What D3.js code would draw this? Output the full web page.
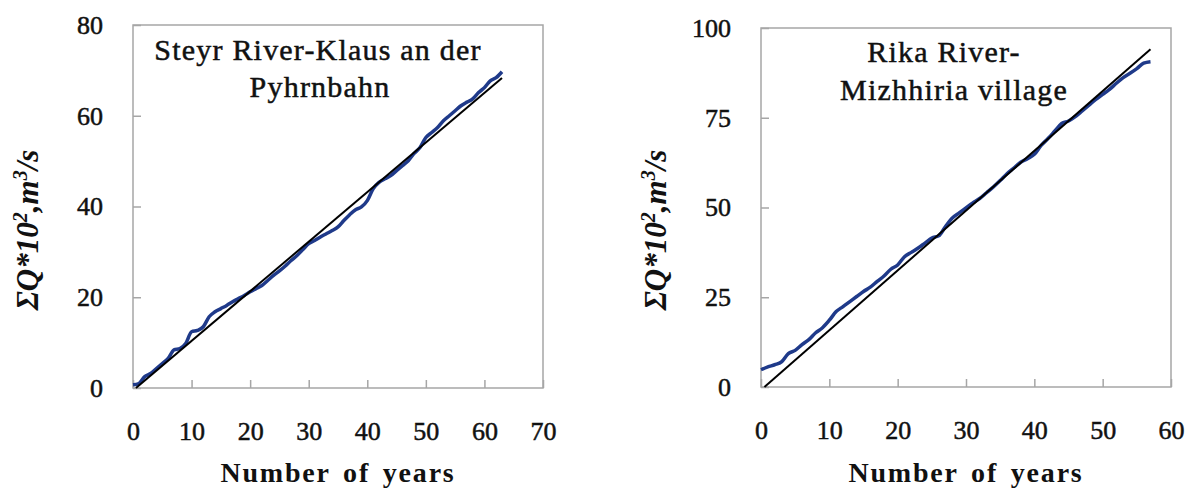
<!DOCTYPE html>
<html>
<head>
<meta charset="utf-8">
<script src="https://cdn.jsdelivr.net/npm/d3@7"></script>
<style>
  body { margin: 0; background: #fff; }
  svg { display: block; }
</style>
</head>
<body>
<svg id="chart" width="1194" height="491"></svg>
<script>
// cumulative discharge, one value per year (index = number of years)
var steyrValues = [0.7, 1, 2.5, 3.2, 4.3, 5.4, 6.5, 8.4, 8.7, 9.8,
  12.4, 12.7, 13.5, 15.7, 16.8, 17.5, 18.2, 19, 19.7, 20.4,
  21.2, 21.9, 22.6, 23.7, 24.8, 25.8, 26.9, 28.1, 29.2, 30.5,
  31.8, 32.5, 33.3, 34, 34.7, 35.5, 36.9, 38.2, 39.3, 39.9,
  41.3, 43.9, 45.3, 46.1, 46.8, 47.9, 49, 50.1, 51.7, 53,
  55.2, 56.3, 57.4, 58.9, 60, 61.1, 62.2, 63, 63.7, 65.1,
  66.2, 67.7, 68.4, 69.7];
var rikaValues = [4.8, 5.6, 6.2, 7, 9.3, 10.2, 11.8, 13.2, 15.1, 16.5,
  18.6, 21, 22.4, 23.8, 25.2, 26.6, 27.8, 29.4, 30.9, 32.8,
  34, 36.3, 37.5, 38.7, 40.1, 41.5, 42.1, 44.7, 47.1, 48.5,
  49.9, 51.3, 52.5, 54.1, 55.7, 57.5, 59.4, 61, 62.6, 63.6,
  64.8, 67.3, 69.2, 71.3, 73.4, 74.1, 75.3, 76.9, 78.5, 80.1,
  81.5, 82.9, 84.6, 86.2, 87.4, 88.7, 90.2, 90.6];

// straight trend lines [year, value]
var steyrTrend = [[0.5, 0], [63, 68.3]];
var rikaTrend = [[0.5, 0], [57, 94.1]];

var steyrTitle = ["Steyr River-Klaus an der", "Pyhrnbahn"];
var rikaTitle = ["Rika River-", "Mizhhiria village"];

var steyrXTicks = [0, 10, 20, 30, 40, 50, 60, 70];
var steyrYTicks = [0, 20, 40, 60, 80];
var rikaXTicks = [0, 10, 20, 30, 40, 50, 60];
var rikaYTicks = [0, 25, 50, 75, 100];

var serif = "'Liberation Serif', 'DejaVu Serif', serif";
var svg = d3.select("#chart");

function styleAxis(sel) {
  sel.attr("font-family", null).attr("font-size", null);
  sel.select(".domain").remove();
  sel.selectAll(".tick line").attr("stroke", "#a6a6a6").attr("stroke-width", 1.5);
  sel.selectAll(".tick text")
    .style("font-family", serif)
    .style("font-size", "26px")
    .style("fill", "#111")
    .style("stroke", "#111")
    .style("stroke-width", 0.5);
}

function drawPanel(opt) {
  var x = d3.scaleLinear().domain([0, opt.xMax]).range([opt.left, opt.right]);
  var y = d3.scaleLinear().domain([0, opt.yMax]).range([opt.bottom, opt.top]);
  var g = svg.append("g");

  // plot frame
  g.append("rect")
    .attr("x", opt.left).attr("y", opt.top)
    .attr("width", opt.right - opt.left).attr("height", opt.bottom - opt.top)
    .attr("fill", "none").attr("stroke", "#a6a6a6").attr("stroke-width", 1.5);

  g.append("g")
    .attr("transform", "translate(" + opt.left + ",0)")
    .call(d3.axisLeft(y).tickValues(opt.yTicks).tickSizeInner(-8).tickSizeOuter(0).tickPadding(30))
    .call(styleAxis);

  g.append("g")
    .attr("transform", "translate(0," + opt.bottom + ")")
    .call(d3.axisBottom(x).tickValues(opt.xTicks).tickSizeInner(-8).tickSizeOuter(0).tickPadding(34))
    .call(styleAxis);

  var line = d3.line()
    .x(function (d, i) { return x(i); })
    .y(function (d) { return y(d); })
    .curve(d3.curveMonotoneX);

  g.append("path")
    .datum(opt.values)
    .attr("d", line)
    .attr("fill", "none")
    .attr("stroke", "#1f3a8a")
    .attr("stroke-width", 3.5)
    .attr("stroke-linejoin", "round");

  g.append("path")
    .datum(opt.trend)
    .attr("d", d3.line().x(function (d) { return x(d[0]); }).y(function (d) { return y(d[1]); }))
    .attr("fill", "none")
    .attr("stroke", "#000")
    .attr("stroke-width", 2);

  // panel title, two lines
  g.selectAll(".ptitle")
    .data(opt.title)
    .enter().append("text")
    .attr("class", "ptitle")
    .attr("x", function (d, i) { return opt.titleX[i]; })
    .attr("y", function (d, i) { return opt.titleY[i]; })
    .attr("text-anchor", "middle")
    .style("font-family", serif)
    .style("font-size", "30px")
    .style("letter-spacing", "1.2px")
    .style("stroke", "#111")
    .style("stroke-width", 0.5)
    .attr("fill", "#111")
    .text(function (d) { return d; });

  // x axis title
  g.append("text")
    .attr("x", (opt.left + opt.right) / 2)
    .attr("y", 482)
    .attr("text-anchor", "middle")
    .style("font-family", serif)
    .style("font-size", "28px")
    .style("font-weight", "bold")
    .style("letter-spacing", "1.8px")
    .style("word-spacing", "4px")
    .attr("fill", "#111")
    .text("Number of  years");

  // y axis title
  var yt = g.append("text")
    .attr("transform", "translate(" + (opt.left - 95) + ",230) rotate(-90)")
    .attr("text-anchor", "middle")
    .style("font-family", serif)
    .style("font-size", "31px")
    .style("font-weight", "bold")
    .style("font-style", "italic")
    .attr("fill", "#111");
  yt.append("tspan").text("ΣQ*10");
  yt.append("tspan").attr("dy", -11).style("font-size", "20px").text("2");
  yt.append("tspan").attr("dy", 11).text(",m");
  yt.append("tspan").attr("dy", -11).style("font-size", "20px").text("3");
  yt.append("tspan").attr("dy", 11).text("/s");
}

drawPanel({
  left: 133, right: 543, top: 25, bottom: 388,
  xMax: 70, yMax: 80, xTicks: steyrXTicks, yTicks: steyrYTicks,
  values: steyrValues, trend: steyrTrend,
  title: steyrTitle, titleX: [318, 320], titleY: [60, 97]
});

drawPanel({
  left: 761, right: 1171, top: 28, bottom: 387,
  xMax: 60, yMax: 100, xTicks: rikaXTicks, yTicks: rikaYTicks,
  values: rikaValues, trend: rikaTrend,
  title: rikaTitle, titleX: [944, 954], titleY: [62, 100]
});
</script>
</body>
</html>
